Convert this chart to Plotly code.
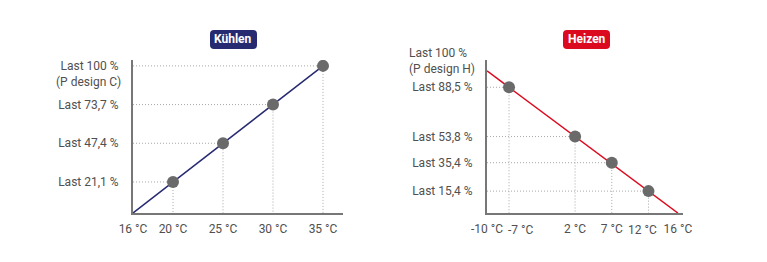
import plotly.graph_objects as go

# ---- data ----
cool_temps = [20, 25, 30, 35]
cool_loads = [21.1, 47.4, 73.7, 100]
cool_line_t = [16, 35]
cool_line_l = [0, 100]
cool_xticks = [16, 20, 25, 30, 35]
cool_ylabels = ["Last 21,1 %", "Last 47,4 %", "Last 73,7 %", "Last 100 %"]
cool_top_sub = "(P design C)"

heat_temps = [-7, 2, 7, 12]
heat_loads = [88.5, 53.8, 35.4, 15.4]
heat_line_t = [-10, 16]
heat_line_l = [100, 0]
heat_xticks = [-10, 2, 7, 16]
heat_nudged_xticks = [-7, 12]
heat_nudge_px = [12, -6]
heat_ylabels = ["Last 88,5 %", "Last 53,8 %", "Last 35,4 %", "Last 15,4 %"]
heat_top_label = "Last 100 %<br>(P design H)"

W, H = 767, 262
NAVY = "#262a70"
RED = "#dc0a1e"
GRID = "#a8a8a8"
AXIS = "#777777"
MARK = "#6a6a6a"
TXT = "#505050"
FONT = "Roboto"

def px(x):
    return x / W

def py(y):
    return 1 - y / H

fig = go.Figure()

for t, l in zip(cool_temps, cool_loads):
    fig.add_trace(go.Scatter(x=[cool_line_t[0], t, t], y=[l, l, 0], mode="lines",
                             line=dict(color=GRID, width=1, dash="1px,2px"),
                             xaxis="x", yaxis="y", hoverinfo="skip", showlegend=False))
fig.add_trace(go.Scatter(x=cool_line_t, y=cool_line_l, mode="lines",
                         line=dict(color=NAVY, width=1.5), xaxis="x", yaxis="y", showlegend=False))
fig.add_trace(go.Scatter(x=cool_temps, y=cool_loads, mode="markers",
                         marker=dict(color=MARK, size=12), xaxis="x", yaxis="y", showlegend=False))

for t, l in zip(heat_temps, heat_loads):
    fig.add_trace(go.Scatter(x=[heat_line_t[0], t, t], y=[l, l, 0], mode="lines",
                             line=dict(color=GRID, width=1, dash="1px,2px"),
                             xaxis="x2", yaxis="y2", hoverinfo="skip", showlegend=False))
fig.add_trace(go.Scatter(x=heat_line_t, y=heat_line_l, mode="lines",
                         line=dict(color=RED, width=1.5), xaxis="x2", yaxis="y2", showlegend=False))
fig.add_trace(go.Scatter(x=heat_temps, y=heat_loads, mode="markers",
                         marker=dict(color=MARK, size=12), xaxis="x2", yaxis="y2", showlegend=False))

ydom = [py(213), py(60)]
tickfont = dict(family=FONT, size=12, color=TXT)
common_x = dict(showgrid=False, zeroline=False, showline=True, linecolor=AXIS, linewidth=2,
                ticks="", tickfont=tickfont, ticklabelstandoff=4, tickangle=0, fixedrange=True,
                automargin=False)
common_y = dict(showgrid=False, zeroline=False, showline=True, linecolor=AXIS, linewidth=2,
                ticks="", tickfont=tickfont, ticklabelstandoff=10, fixedrange=True,
                automargin=False)

fig.update_layout(
    width=W, height=H, margin=dict(l=0, r=0, t=0, b=0, autoexpand=False),
    paper_bgcolor="white", plot_bgcolor="white", showlegend=False,
    xaxis=dict(domain=[px(133), px(343)], range=[16, 37], anchor="y",
               tickvals=cool_xticks, ticktext=[f"{v} °C" for v in cool_xticks], **common_x),
    yaxis=dict(domain=ydom, range=[0, 104], anchor="x",
               tickvals=cool_loads, ticktext=cool_ylabels, **common_y),
    xaxis2=dict(domain=[px(487), px(683)], range=[-10, 16.7], anchor="y2",
                tickvals=heat_xticks, ticktext=[f"{v} °C" for v in heat_xticks], **common_x),
    yaxis2=dict(domain=ydom, range=[0, 107.7], anchor="x2",
                tickvals=heat_loads, ticktext=heat_ylabels, **common_y),
)

# tick labels nudged sideways so neighbouring labels don't collide
for v, dx in zip(heat_nudged_xticks, heat_nudge_px):
    fig.add_annotation(x=v, y=0, xref="x2", yref="y2", text=f"{v} °C",
                       showarrow=False, xanchor="center", yanchor="top", xshift=dx, yshift=-8,
                       font=tickfont)

fig.add_annotation(x=px(123), y=py(82), xref="paper", yref="paper", text=cool_top_sub,
                   showarrow=False, xanchor="right", yanchor="middle", font=tickfont)
fig.add_annotation(x=px(477), y=py(61), xref="paper", yref="paper", text=heat_top_label,
                   showarrow=False, xanchor="right", yanchor="middle", align="left",
                   font=tickfont)

def rounded_rect(x0, y0, x1, y1, r):
    X0, X1 = px(x0), px(x1)
    Y0, Y1 = py(y0), py(y1)
    rx, ry = r / W, r / H
    return (f"M {X0+rx},{Y0} L {X1-rx},{Y0} Q {X1},{Y0} {X1},{Y0-ry} "
            f"L {X1},{Y1+ry} Q {X1},{Y1} {X1-rx},{Y1} L {X0+rx},{Y1} "
            f"Q {X0},{Y1} {X0},{Y1+ry} L {X0},{Y0-ry} Q {X0},{Y0} {X0+rx},{Y0} Z")

for (x0, x1, color, label) in [(210, 257, NAVY, "Kühlen"), (563, 610, RED, "Heizen")]:
    fig.add_shape(type="path", path=rounded_rect(x0, 30, x1, 49, 4), xref="paper", yref="paper",
                  fillcolor=color, line=dict(width=0), layer="above")
    fig.add_annotation(x=px((x0 + x1) / 2), y=py(39.5), xref="paper", yref="paper", text=f"<b>{label}</b>",
                       showarrow=False, xanchor="center", yanchor="middle",
                       font=dict(family=FONT, size=12, color="white"))

fig.write_html("out.html", post_script="document.body.style.margin='0';")
